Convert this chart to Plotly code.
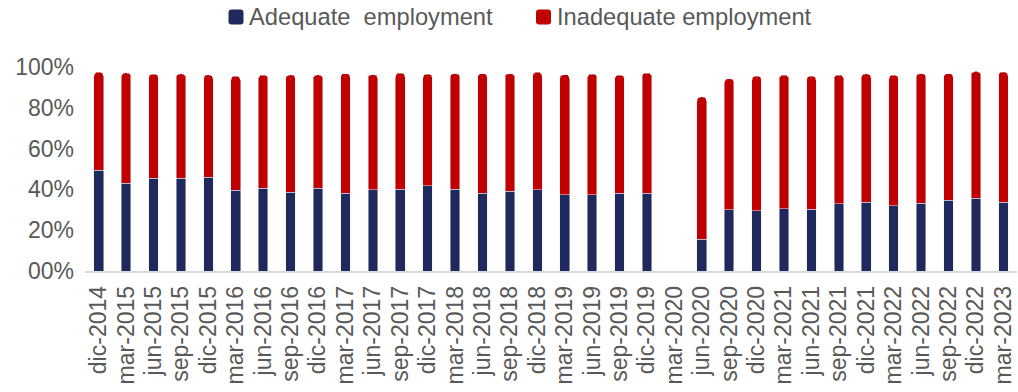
import plotly.graph_objects as go

# Quarterly periods
periods = [
    "dic-2014", "mar-2015", "jun-2015", "sep-2015", "dic-2015",
    "mar-2016", "jun-2016", "sep-2016", "dic-2016",
    "mar-2017", "jun-2017", "sep-2017", "dic-2017",
    "mar-2018", "jun-2018", "sep-2018", "dic-2018",
    "mar-2019", "jun-2019", "sep-2019", "dic-2019",
    "mar-2020", "jun-2020", "sep-2020", "dic-2020",
    "mar-2021", "jun-2021", "sep-2021", "dic-2021",
    "mar-2022", "jun-2022", "sep-2022", "dic-2022",
    "mar-2023",
]

# Share of the labour force (%), mar-2020 has no survey data
adequate = [
    49.3, 43.1, 45.5, 45.5, 46.0,
    39.5, 40.6, 38.5, 40.6,
    38.2, 39.8, 40.1, 41.8,
    40.1, 38.2, 39.0, 39.8,
    37.3, 37.3, 38.2, 38.2,
    None, 15.6, 30.0, 29.6,
    30.5, 30.3, 32.9, 33.6,
    32.1, 33.3, 34.6, 35.7,
    33.6,
]
inadequate = [
    48.1, 54.0, 51.0, 51.1, 50.1,
    56.0, 55.4, 57.6, 55.5,
    58.6, 56.5, 56.9, 54.7,
    56.7, 58.6, 57.8, 57.6,
    59.0, 59.2, 57.8, 58.8,
    None, 69.7, 64.3, 65.9,
    65.5, 65.2, 63.1, 63.0,
    63.9, 63.5, 62.2, 62.1,
    64.0,
]

y_tickvals = [0, 20, 40, 60, 80, 100]
y_ticktext = ["00%", "20%", "40%", "60%", "80%", "100%"]

series_names = ["Adequate\u00a0 employment", "Inadequate employment"]
series_colors = ["#1F295E", "#C00000"]

text_gray = "#595959"
font_family = "Liberation Sans, Arial, sans-serif"

W, H = 1018, 392
M_L, M_R, M_T, M_B = 85, 1, 67, 121
PW, PH = W - M_L - M_R, H - M_T - M_B

fig = go.Figure()
for name, vals, col in zip(series_names, [adequate, inadequate], series_colors):
    fig.add_trace(go.Bar(
        x=periods, y=vals, name=name,
        marker=dict(color=col),
        showlegend=False,
    ))


def px_x(px):
    return (px - M_L) / PW


def px_y(py):
    return (H - M_B - py) / PH


def rounded_square(x0, y0, size, r):
    """SVG path of a rounded square in paper coordinates, from pixel geometry."""
    x1, y1 = x0 + size, y0 + size
    pts = [
        f"M {px_x(x0 + r)},{px_y(y0)}",
        f"L {px_x(x1 - r)},{px_y(y0)}",
        f"Q {px_x(x1)},{px_y(y0)} {px_x(x1)},{px_y(y0 + r)}",
        f"L {px_x(x1)},{px_y(y1 - r)}",
        f"Q {px_x(x1)},{px_y(y1)} {px_x(x1 - r)},{px_y(y1)}",
        f"L {px_x(x0 + r)},{px_y(y1)}",
        f"Q {px_x(x0)},{px_y(y1)} {px_x(x0)},{px_y(y1 - r)}",
        f"L {px_x(x0)},{px_y(y0 + r)}",
        f"Q {px_x(x0)},{px_y(y0)} {px_x(x0 + r)},{px_y(y0)}",
        "Z",
    ]
    return " ".join(pts)


# Legend: swatch + label for each series
legend_swatch_x = [228.5, 536]
legend_text_x = [247, 555]
legend_top, swatch = 9.5, 15
for name, col, sx, tx in zip(series_names, series_colors, legend_swatch_x, legend_text_x):
    fig.add_shape(
        type="path", xref="paper", yref="paper",
        path=rounded_square(sx, legend_top, swatch, 3),
        fillcolor=col, line=dict(width=0),
    )
    fig.add_annotation(
        x=px_x(tx), y=px_y(legend_top + swatch / 2),
        xref="paper", yref="paper",
        xanchor="left", yanchor="middle",
        text=name, showarrow=False,
        font=dict(size=23.7, color=text_gray, family=font_family),
    )

fig.update_layout(
    width=W, height=H,
    barmode="stack",
    bargap=0.65,
    barcornerradius=4,
    plot_bgcolor="white",
    paper_bgcolor="white",
    margin=dict(l=M_L, r=M_R, t=M_T, b=M_B),
    font=dict(family=font_family, color=text_gray, size=23),
    showlegend=False,
)

fig.update_xaxes(
    type="category",
    tickmode="array", tickvals=periods, ticktext=periods,
    tickangle=-90,
    showline=True, linecolor="#D9D9D9", linewidth=1.5,
    ticks="",
    showgrid=False,
    tickfont=dict(size=23, color=text_gray),
    ticklabelstandoff=4,
)
fig.update_yaxes(
    range=[0, 100],
    tickvals=y_tickvals, ticktext=y_ticktext,
    showgrid=False, zeroline=False, showline=False,
    ticks="",
    tickfont=dict(size=23, color=text_gray),
    ticklabelstandoff=10,
)

fig.write_html("out.html")
